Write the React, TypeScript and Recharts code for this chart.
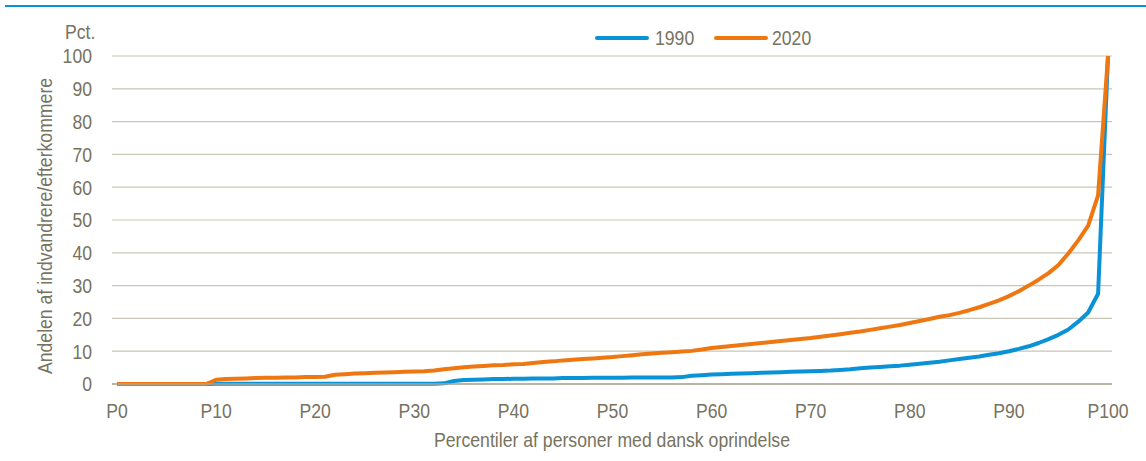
import { LineChart, Line, XAxis, YAxis, CartesianGrid } from 'recharts'

const percentiles = Array.from({ length: 101 }, (_, i) => i)

const xTicks = [0, 10, 20, 30, 40, 50, 60, 70, 80, 90, 100]
const xTickLabels = ['P0', 'P10', 'P20', 'P30', 'P40', 'P50', 'P60', 'P70', 'P80', 'P90', 'P100']
const yTicks = [0, 10, 20, 30, 40, 50, 60, 70, 80, 90, 100]

// andel (pct.) pr. percentil
const v1990 = [
  0, 0, 0, 0, 0, 0, 0, 0, 0, 0,
  0.1, 0.1, 0.1, 0.1, 0.1, 0.1, 0.1, 0.1, 0.1, 0.1,
  0.1, 0.1, 0.1, 0.1, 0.1, 0.1, 0.1, 0.1, 0.1, 0.1,
  0.1, 0.1, 0.1, 0.2, 0.9, 1.2, 1.3, 1.4, 1.5, 1.5,
  1.6, 1.6, 1.7, 1.7, 1.7, 1.8, 1.8, 1.8, 1.9, 1.9,
  1.9, 1.9, 2.0, 2.0, 2.0, 2.0, 2.0, 2.1, 2.5, 2.7,
  2.9, 3.0, 3.1, 3.2, 3.3, 3.4, 3.5, 3.6, 3.7, 3.8,
  3.9, 4.0, 4.1, 4.3, 4.5, 4.8, 5.0, 5.2, 5.4, 5.6,
  5.9, 6.2, 6.5, 6.8, 7.2, 7.6, 8.0, 8.4, 8.9, 9.4,
  10.0, 10.7, 11.5, 12.5, 13.7, 15.0, 16.6, 19.0, 21.8, 27.5,
  100,
]

const v2020 = [
  0, 0, 0, 0, 0, 0, 0, 0, 0, 0,
  1.3, 1.5, 1.6, 1.7, 1.8, 1.9, 1.9, 2.0, 2.0, 2.1,
  2.1, 2.2, 2.8, 3.0, 3.2, 3.3, 3.4, 3.5, 3.6, 3.7,
  3.8, 3.9, 4.1, 4.5, 4.8, 5.1, 5.3, 5.5, 5.7, 5.8,
  6.0, 6.1, 6.4, 6.7, 6.9, 7.2, 7.4, 7.6, 7.8, 8.0,
  8.2, 8.5, 8.8, 9.1, 9.3, 9.5, 9.7, 9.9, 10.1, 10.5,
  11.0, 11.3, 11.6, 11.9, 12.2, 12.5, 12.8, 13.1, 13.4, 13.7,
  14.0, 14.4, 14.8, 15.2, 15.6, 16.0, 16.5, 17.0, 17.5, 18.0,
  18.6, 19.2, 19.8, 20.5, 21.0, 21.7, 22.5, 23.4, 24.4, 25.5,
  26.8, 28.3, 30.0, 31.8, 33.8, 36.3, 39.8, 43.8, 48.3, 57.5,
  100,
]

const data = percentiles.map((p, i) => ({ p, y1990: v1990[i], y2020: v2020[i] }))

const FONT = '"Liberation Sans", Arial, sans-serif'
const SIZE = 21
const TEXT = '#77735f'
const BLUE = '#0a92d6'
const ORANGE = '#ef7711'
const SQUEEZE = 0.84 // referencen bruger en smal skrift

function XTick({ x, y, payload }: any) {
  return (
    <g transform={`translate(${x},${y})`}>
      <text transform={`scale(${SQUEEZE},1)`} textAnchor="middle" dy="0.71em" fontSize={SIZE} fill={TEXT} fontFamily={FONT}>
        {xTickLabels[xTicks.indexOf(payload.value)]}
      </text>
    </g>
  )
}

function YTick({ x, y, payload }: any) {
  return (
    <g transform={`translate(${x},${y})`}>
      <text transform={`scale(${SQUEEZE},1)`} textAnchor="end" dy="0.355em" fontSize={SIZE} fill={TEXT} fontFamily={FONT}>
        {payload.value}
      </text>
    </g>
  )
}

const narrow = (origin: string) => ({ transform: `scaleX(${SQUEEZE})`, transformOrigin: origin })

export default function App() {
  return (
    <div style={{ position: 'absolute', left: 0, top: 0, width: 1146, height: 461, background: '#fff', fontFamily: FONT }}>
      <div style={{ position: 'absolute', left: 5, top: 5, width: 1141, height: 2, background: BLUE }} />
      <LineChart width={1146} height={461} data={data} margin={{ top: 56, right: 34, bottom: 47, left: 0 }}>
        <CartesianGrid vertical={false} stroke="#c9c6b8" strokeWidth={1.2} />
        <XAxis dataKey="p" type="number" domain={[0, 100]} ticks={xTicks} height={30}
          padding={{ left: 5, right: 4 }} tick={<XTick />} tickLine={false} tickSize={0} tickMargin={19}
          axisLine={{ stroke: '#aaa696', strokeWidth: 1.5 }} />
        <YAxis domain={[0, 100]} ticks={yTicks} width={112} tick={<YTick />}
          tickLine={false} tickSize={0} tickMargin={20} axisLine={false} />
        <Line type="linear" dataKey="y1990" stroke={BLUE} strokeWidth={4} dot={false}
          strokeLinejoin="round" isAnimationActive={false} />
        <Line type="linear" dataKey="y2020" stroke={ORANGE} strokeWidth={4} dot={false}
          strokeLinejoin="round" isAnimationActive={false} />
      </LineChart>

      <div style={{ position: 'absolute', left: 65, top: 20, fontSize: SIZE, color: TEXT, lineHeight: '24px', ...narrow('left center') }}>Pct.</div>

      <div style={{ position: 'absolute', left: 45, top: 226, width: 0, height: 0 }}>
        <div style={{ position: 'absolute', transform: `translate(-50%, -50%) rotate(-90deg) scaleX(${SQUEEZE})`, whiteSpace: 'nowrap',
          fontSize: SIZE, color: TEXT, lineHeight: '24px' }}>
          Andelen af indvandrere/efterkommere
        </div>
      </div>

      <div style={{ position: 'absolute', left: 0, width: 1224, top: 428, textAlign: 'center', fontSize: SIZE,
        color: TEXT, lineHeight: '24px', ...narrow('612px center') }}>
        Percentiler af personer med dansk oprindelse
      </div>

      <div style={{ position: 'absolute', left: 595, top: 26, display: 'flex', alignItems: 'center', fontSize: SIZE,
        color: TEXT, lineHeight: '24px' }}>
        <span style={{ display: 'inline-block', width: 54, height: 4, borderRadius: 2, background: BLUE, marginRight: 6 }} />
        <span style={{ display: 'inline-block', ...narrow('left center') }}>1990</span>
        <span style={{ display: 'inline-block', width: 54, height: 4, borderRadius: 2, background: ORANGE, marginLeft: 12, marginRight: 4 }} />
        <span style={{ display: 'inline-block', ...narrow('left center') }}>2020</span>
      </div>
    </div>
  )
}
